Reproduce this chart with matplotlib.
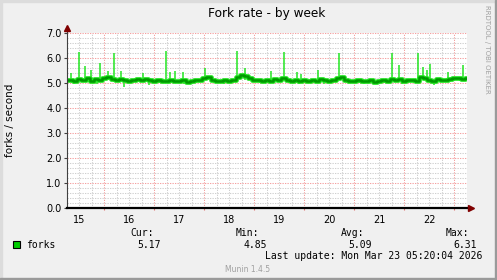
import matplotlib
matplotlib.use('Agg')
import matplotlib.pyplot as plt
from matplotlib.patches import Rectangle

W, H = 497, 280

# ---- data (days of March 2026, 2 h steps from 15.25 to 23.25) ----
t_start = 15.25
t_step = 1 / 12
forks_base = [
    5.12, 5.15, 5.10, 5.16, 5.13, 5.22, 5.11, 5.18, 5.14, 5.20,
    5.24, 5.16, 5.12, 5.19, 5.13, 5.09, 5.14, 5.17, 5.12, 5.18, 5.15, 5.11,
    5.13, 5.08, 5.11, 5.15, 5.10, 5.09, 5.13, 5.07, 5.10, 5.14, 5.12, 5.21,
    5.24, 5.15, 5.11, 5.09, 5.12, 5.10, 5.14, 5.27, 5.33, 5.28, 5.22, 5.15,
    5.12, 5.10, 5.14, 5.11, 5.16, 5.13, 5.22, 5.14, 5.10, 5.13, 5.09, 5.12,
    5.10, 5.14, 5.11, 5.17, 5.12, 5.09, 5.13, 5.20, 5.25, 5.15, 5.11, 5.09,
    5.12, 5.08, 5.10, 5.14, 5.06, 5.09, 5.12, 5.10, 5.19, 5.13, 5.16, 5.10,
    5.12, 5.15, 5.11, 5.24, 5.20, 5.13, 5.11, 5.16, 5.12, 5.14, 5.18, 5.20,
    5.21, 5.17, 5.22,
]
forks_t = [t_start + i * t_step for i in range(len(forks_base))]

spike_t = [15.33, 15.50, 15.62, 15.73, 15.92, 16.07, 16.19, 16.33, 16.77,
           17.24, 17.32, 17.41, 17.57, 18.01, 18.66, 18.81, 19.33, 19.60,
           19.85, 19.93, 20.28, 20.69, 21.75, 21.90, 22.28, 22.38, 22.45,
           22.51, 22.87, 23.18]
spike_v = [5.43, 6.26, 5.70, 5.53, 5.80, 5.49, 6.22, 5.49, 5.43,
           6.31, 5.47, 5.49, 5.44, 5.60, 6.31, 5.63, 5.51, 6.27,
           5.47, 5.37, 5.53, 6.22, 6.20, 5.73, 6.22, 5.67, 5.53,
           5.77, 5.47, 5.73]

dip_t = [15.40, 15.85, 16.40, 16.90, 17.60, 18.40, 19.90, 20.40, 21.20,
         21.95, 22.60]
dip_v = [4.97, 4.99, 4.85, 4.95, 4.97, 4.98, 4.96, 4.98, 4.97, 4.99, 4.95]

day_labels = ['15', '16', '17', '18', '19', '20', '21', '22']
legend_stats = {'Cur:': '5.17', 'Min:': '4.85', 'Avg:': '5.09', 'Max:': '6.31'}

BG = '#f0f0f0'
DARK = '#009900'
BRIGHT = '#22e622'
MGRID = '#f4a0a0'
GRID = '#cfcfcf'


def fx(x):
    return x / W


def fy(y):
    return 1 - y / H


fig = plt.figure(figsize=(W / 100, H / 100), dpi=100, facecolor=BG)

# 3D-ish frame
fig.patches.append(Rectangle((0, fy(2)), 1, 2 / H, transform=fig.transFigure,
                             color='#dcdcdc', zorder=0))
fig.patches.append(Rectangle((0, 0), 2 / W, 1, transform=fig.transFigure,
                             color='#dcdcdc', zorder=0))
fig.patches.append(Rectangle((fx(494.5), 0), 2.5 / W, 1, transform=fig.transFigure,
                             color='#9a9a9a', zorder=0))
fig.patches.append(Rectangle((0, 0), 1, 2.5 / H, transform=fig.transFigure,
                             color='#9a9a9a', zorder=0))

ax = fig.add_axes([fx(67), fy(208.3), 400 / W, 175 / H])
ax.set_facecolor('white')
x0, x1 = 15.254, 23.254
ax.set_xlim(x0, x1)
ax.set_ylim(0, 7)
for s in ax.spines.values():
    s.set_visible(False)

# grid: minor every 6 h / 0.2, major every day / 1.0
k = 0
while 15 + k * 0.25 < x1:
    gx = 15 + k * 0.25
    if gx > x0:
        major = abs(gx - round(gx)) < 1e-6
        ax.axvline(gx, color=MGRID if major else GRID, lw=0.75,
                   dashes=(1.2, 1.2), zorder=1, snap=True)
    k += 1
for j in range(1, 36):
    gy = j * 0.2
    major = j % 5 == 0
    ax.axhline(gy, color=MGRID if major else GRID, lw=0.75,
               dashes=(1.2, 1.2), zorder=1, snap=True)

# data
ax.vlines(spike_t, 5.12, spike_v, color=BRIGHT, lw=1.1, zorder=3)
ax.vlines(dip_t, 5.10, dip_v, color=BRIGHT, lw=1.1, zorder=3)
ax.plot(forks_t, forks_base, color=BRIGHT, lw=3.4, zorder=3,
        drawstyle='steps-mid')
ax.plot(forks_t, forks_base, color=DARK, lw=1.8, zorder=4,
        drawstyle='steps-mid')

# axes lines and arrows
ax.plot([x0, x0], [0, 7.2], color='#404040', lw=0.8, clip_on=False, zorder=5)
ax.plot([x0, x1 + 0.06], [0, 0], color='black', lw=1.6, clip_on=False, zorder=5)
ax.plot([x0], [7.22], marker='^', color='#800000', markersize=4,
        clip_on=False, zorder=6)
ax.plot([x1 + 0.07], [0], marker='>', color='#800000', markersize=4,
        clip_on=False, zorder=6)
ax.vlines(range(16, 24), -0.08, 0, color='#e07070', lw=0.8, clip_on=False)

ax.set_yticks(range(8))
ax.set_yticklabels([f'{v:.1f}' for v in range(8)])
ax.set_xticks([int(d) + 0.5 for d in day_labels])
ax.set_xticklabels(day_labels)
ax.tick_params(axis='y', length=2, width=0.8, color='#404040', pad=2,
               labelsize=7)
ax.tick_params(axis='x', length=0, pad=5, labelsize=7)

# texts
fig.text(fx(267), fy(14), 'Fork rate - by week', ha='center', va='center',
         fontsize=8.7)
fig.text(fx(10), fy(120), 'forks / second', rotation=90, ha='center',
         va='center', fontsize=7.5)
fig.text(fx(487), fy(5), 'RRDTOOL / TOBI OETIKER', rotation=270, ha='center',
         va='top', fontsize=5, color='#a0a0a0')

mono = 'DejaVu Sans Mono'
fig.patches.append(Rectangle((fx(13), fy(248.3)), 7 / W, 7 / H,
                             transform=fig.transFigure, facecolor='#00cc00',
                             edgecolor='black', lw=0.8))
fig.text(fx(26.5), fy(244.7), 'forks', ha='left', va='center',
         family=mono, fontsize=7)
head_x = [154, 259.5, 364.5, 469.5]
val_x = [160.7, 266.7, 372.3, 476.7]
for (hd, val), hx, vx in zip(legend_stats.items(), head_x, val_x):
    fig.text(fx(hx), fy(233.3), hd, ha='right', va='center',
             family=mono, fontsize=7)
    fig.text(fx(vx), fy(244.7), val, ha='right', va='center',
             family=mono, fontsize=7)
fig.text(fx(482.7), fy(256), 'Last update: Mon Mar 23 05:20:04 2026',
         ha='right', va='center', family=mono, fontsize=7)
fig.text(fx(248), fy(269.3), 'Munin 1.4.5', ha='center', va='center',
         fontsize=5.5, color='#a0a0a0')

fig.savefig('out.png', dpi=100, facecolor=BG)
